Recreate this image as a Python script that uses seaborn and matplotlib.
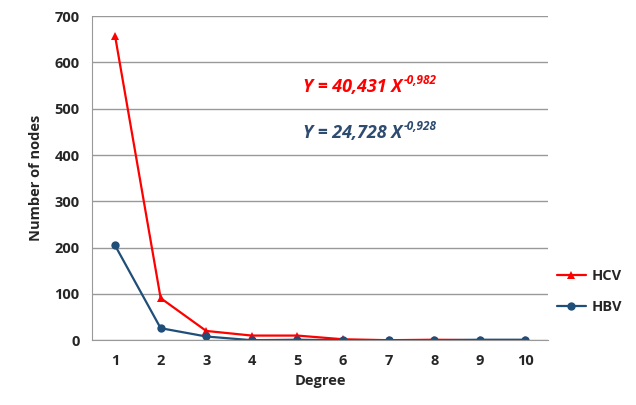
import pandas as pd
import matplotlib.pyplot as plt
import seaborn as sns
from matplotlib.lines import Line2D

# Datos
degree = [1, 2, 3, 4, 5, 6, 7, 8, 9, 10]
hcv = [658, 91, 20, 10, 10, 2, 0, 1, 0, 0]
hbv = [205, 26, 8, 0, 1, 0, 0, 0, 1, 1]

df = pd.DataFrame({
    "Degree": degree * 2,
    "Nodes": hcv + hbv,
    "Serie": ["HCV"] * len(hcv) + ["HBV"] * len(hbv),
})

sns.set_style("white")
plt.rcParams['font.family'] = ['Open Sans', 'DejaVu Sans']

fig = plt.figure(figsize=(6.36, 4.05), dpi=100)
ax = fig.add_axes([0.145, 0.160, 0.717, 0.800])

colors = {"HCV": "#FF0000", "HBV": "#1F4E79"}
markers = {"HCV": "^", "HBV": "o"}
sns.lineplot(data=df, x="Degree", y="Nodes", hue="Serie", style="Serie",
             palette=colors, markers=markers, dashes=False, markersize=6,
             markeredgewidth=0, linewidth=1.6, ax=ax, legend=False)

ax.set_xlim(0.5, 10.5)
ax.set_ylim(0, 700)
ax.set_yticks(range(0, 701, 100))
ax.set_xticks(degree)
ax.set_xticks([x + 0.5 for x in range(0, 11)], minor=True)
ax.tick_params(axis='x', which='major', length=0, pad=10)
ax.tick_params(axis='x', which='minor', length=5, color='#999999', direction='out')
ax.tick_params(axis='y', length=5, color='#999999', direction='out', pad=4)
for lab in ax.get_xticklabels() + ax.get_yticklabels():
    lab.set_fontweight('bold')
    lab.set_fontsize(10.5)

ax.grid(axis='y', color='#999999', linewidth=1)
for s in ['top', 'right']:
    ax.spines[s].set_visible(False)
for s in ['left', 'bottom']:
    ax.spines[s].set_color('#999999')

ax.set_xlabel("Degree", fontsize=10.5, fontweight='bold', labelpad=4)
ax.set_ylabel("Number of nodes", fontsize=10.5, fontweight='bold', labelpad=8)

# Ecuaciones de ajuste
eqs = [("Y = 40,431 X", "-0,982", "#FF0000", 0.772),
       ("Y = 24,728 X", "-0,928", "#2E4B70", 0.660)]
for main, sup, col, yy in eqs:
    t = fig.text(0.476, yy, main, color=col, fontsize=13,
                 fontweight='bold', style='italic')
    ax.annotate(sup, xy=(1, 0.5), xycoords=t, xytext=(1.5, 0),
                textcoords='offset points', ha='left', va='bottom',
                color=col, fontsize=8.5, fontweight='bold', style='italic',
                annotation_clip=False)

# Leyenda
handles = [Line2D([], [], color=colors[k], marker=markers[k], markersize=6,
                  markeredgewidth=0, linewidth=1.6) for k in ["HCV", "HBV"]]
fig.legend(handles, ["HCV", "HBV"], loc='center left',
           bbox_to_anchor=(0.875, 0.28), frameon=False,
           handlelength=2.0, handletextpad=0.4, labelspacing=1.2,
           borderaxespad=0, borderpad=0,
           prop={'weight': 'bold', 'size': 10.5})

plt.savefig("out.png", dpi=100)
